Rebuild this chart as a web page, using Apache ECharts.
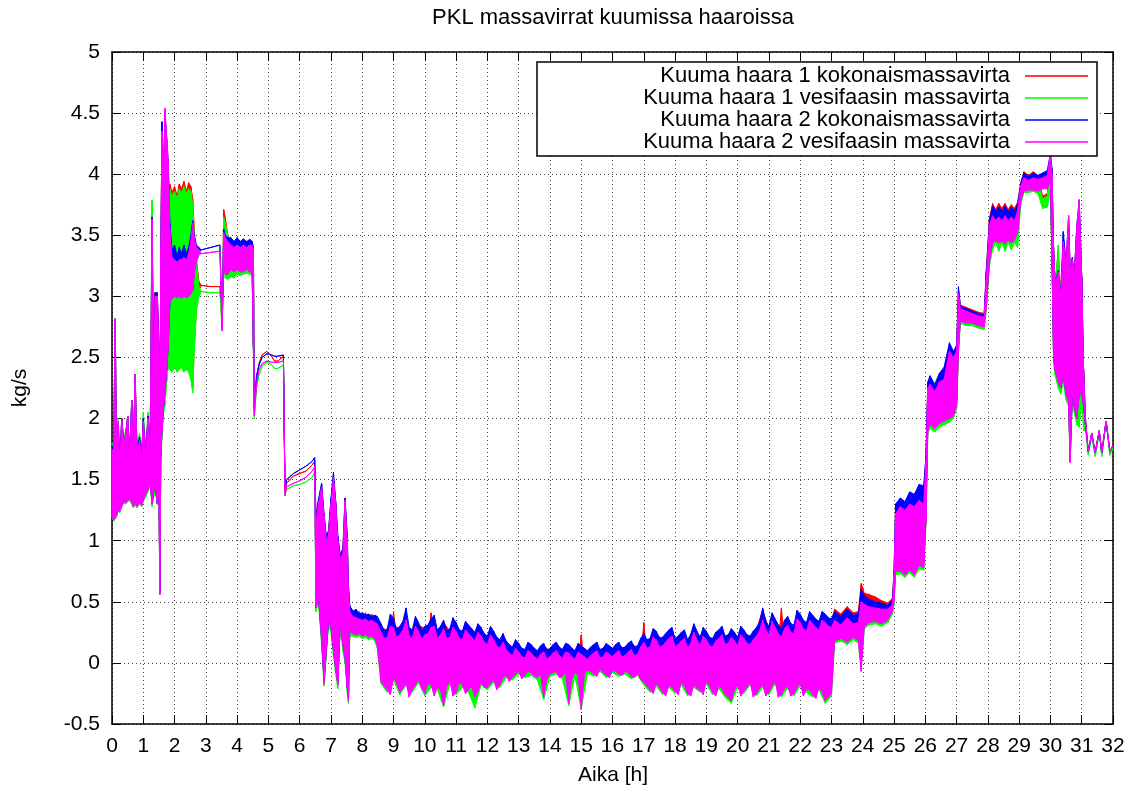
<!DOCTYPE html>
<html><head><meta charset="utf-8">
<script src="https://cdn.jsdelivr.net/npm/echarts@6/dist/echarts.min.js"></script>
<style>html,body{margin:0;padding:0;background:#fff}#c{width:1133px;height:795px}</style>
</head><body><div id="c"></div>
<script>
const chartTitle = 'PKL massavirrat kuumissa haaroissa';
const xTitle = 'Aika [h]';
const yTitle = 'kg/s';
const seriesNames = ['Kuuma haara 1 kokonaismassavirta','Kuuma haara 1 vesifaasin massavirta','Kuuma haara 2 kokonaismassavirta','Kuuma haara 2 vesifaasin massavirta'];
const seriesColors = ['#ff0000','#00ff00','#0000ff','#ff00ff'];
// each sample: [hours, upper edge of signal, lower edge of signal (omitted = same)]
const red = [[0,1.80,1.22],[0.05,1.70,1.18],[0.1,2.80,1.20],[0.15,1.75,1.22],[0.2,1.95,1.26],[0.25,1.65,1.25],[0.31,2.00,1.30],[0.38,1.80,1.33],[0.44,1.88,1.32],[0.5,2.02,1.34],[0.56,1.70,1.35],[0.63,2.15,1.33],[0.68,1.72,1.30],[0.74,2.36,1.32],[0.8,1.75,1.30],[0.88,1.85,1.33],[0.95,1.70,1.30],[1,2.00,1.35],[1.08,1.72,1.40],[1.15,2.02,1.45],[1.22,1.80,1.50],[1.28,3.65,1.30],[1.33,2.40,1.40],[1.38,3.03,1.45],[1.45,3.02,1.30],[1.5,2.60,1.40],[1.53,1.80,0.58],[1.56,3.40,1.70],[1.6,4.40,1.90],[1.65,3.90,2.10],[1.69,4.50,2.20],[1.75,4.25,2.40],
[1.8,3.88,2.45],[1.85,3.92,2.42],[1.92,3.85,2.40],[2,3.90,2.45],[2.08,3.82,2.40],[2.15,3.92,2.42],[2.22,3.88,2.45],[2.3,3.94,2.40],[2.38,3.86,2.42],[2.45,3.93,2.40],[2.52,3.90,2.35],[2.58,3.80,2.25],[2.63,3.55,2.60],[2.7,3.30,2.90],[2.78,3.12,3.05],
[2.85,3.09],[3.15,3.08],[3.45,3.08],[3.52,2.80,2.75],[3.57,3.71,3.30],[3.62,3.65,3.20],[3.7,3.50,3.20],[3.8,3.46,3.25],[3.9,3.44,3.22],[4,3.47,3.24],[4.1,3.43,3.22],[4.2,3.47,3.22],[4.3,3.44,3.24],[4.4,3.47,3.22],[4.48,3.45,3.20],[4.52,3.40,2.60],[4.55,2.10,2.05],
[4.62,2.30],[4.7,2.45],[4.8,2.52],[4.95,2.55],[5.1,2.51],[5.2,2.47],[5.3,2.47],[5.48,2.51],[5.53,1.40],[5.58,1.47],[5.8,1.53],[6,1.55],[6.2,1.57],[6.4,1.62],[6.48,1.65],
[6.52,1.18,0.45],[6.6,1.32,0.52],[6.7,1.46,0.18],[6.78,1.20,-0.16],[6.85,1.02,0.10],[6.92,1.06,0.33],[7,1.32,0.28],[7.08,1.54,0.10],[7.15,1.30,-0.05],[7.22,1.02,-0.17],[7.3,0.86,0.33],[7.38,0.92,0.14],[7.45,1.33,0.04],[7.52,1.02,-0.20],[7.56,0.62,-0.30],[7.6,0.46,0.26],
[7.7,0.43,0.25],[7.8,0.40,0.24],[7.9,0.42,0.25],[8,0.38,0.23],[8.1,0.41,0.24],[8.2,0.37,0.22],[8.3,0.40,0.23],[8.4,0.36,0.22],[8.48,0.34,0.15],
[8.6,0.30,-0.12],[8.8,0.26,-0.19],[8.95,0.30,-0.15],[9,0.42,-0.09],[9.05,0.30,-0.12],[9.2,0.28,-0.21],[9.35,0.32,-0.12],[9.4,0.43,-0.13],[9.45,0.30,-0.14],[9.6,0.25,-0.19],[9.8,0.31,-0.11],[10,0.28,-0.22],[10.15,0.30,-0.13],[10.2,0.41,-0.15],[10.25,0.30,-0.14],[10.4,0.25,-0.17],[10.6,0.33,-0.30],[10.8,0.26,-0.12],[11,0.31,-0.21],[11.2,0.24,-0.15],[11.4,0.29,-0.19],[11.6,0.23,-0.25],[11.8,0.27,-0.13],[12,0.20,-0.17],[12.2,0.24,-0.11],[12.4,0.17,-0.15],[12.6,0.16,-0.07],[12.8,0.11,-0.09],[13,0.14,-0.04],[13.2,0.09,-0.07],[13.4,0.13,-0.05],[13.6,0.08,-0.09],[13.8,0.14,-0.25],[14,0.10,-0.06],[14.2,0.15,-0.04],[14.4,0.09,-0.08],[14.6,0.13,-0.30],[14.8,0.08,-0.05],[14.95,0.10,-0.06],[15,0.23,-0.35],[15.05,0.10,-0.05],[15.2,0.08,-0.03],[15.4,0.13,-0.06],[15.6,0.09,-0.02],[15.8,0.14,-0.07],[16,0.10,-0.03],[16.2,0.15,-0.06],[16.4,0.11,-0.04],[16.6,0.16,-0.08],[16.8,0.12,-0.05],[16.95,0.16,-0.08],[17,0.33,-0.13],[17.05,0.19,-0.12],[17.2,0.18,-0.19],[17.4,0.24,-0.14],[17.6,0.19,-0.21],[17.8,0.25,-0.15],[18,0.18,-0.20],[18.2,0.23,-0.13],[18.4,0.17,-0.22],[18.6,0.30,-0.15],[18.8,0.19,-0.19],[19,0.24,-0.12],[19.2,0.18,-0.21],[19.4,0.25,-0.16],[19.6,0.20,-0.23],[19.8,0.26,-0.28],[20,0.19,-0.15],[20.2,0.25,-0.20],[20.4,0.20,-0.13],[20.6,0.27,-0.22],[20.8,0.43,-0.15],[21,0.28,-0.21],[21.2,0.34,-0.12],[21.35,0.30,-0.15],[21.4,0.45,-0.23],[21.45,0.30,-0.16],[21.6,0.36,-0.16],[21.8,0.29,-0.22],[22,0.38,-0.14],[22.2,0.31,-0.19],[22.4,0.37,-0.23],[22.6,0.32,-0.17],[22.8,0.38,-0.28],[23,0.34,-0.22],[23.1,0.44,0.21],[23.3,0.40,0.23],[23.5,0.46,0.20],[23.7,0.41,0.24],[23.86,0.42,0.21],[23.95,0.65,-0.02],[24.05,0.57,0.33],[24.2,0.56,0.35],[24.4,0.54,0.36],[24.6,0.51,0.34],[24.8,0.49,0.37],[24.95,0.53,0.44],
[25,0.75,0.55],[25.05,1.28,0.77],[25.2,1.33,0.79],[25.35,1.30,0.77],[25.5,1.38,0.80],[25.65,1.36,0.78],[25.8,1.44,0.83],[25.95,1.43,0.83],[26.02,1.68,1.18],[26.08,2.28,1.93],[26.15,2.33,1.98],[26.3,2.26,1.94],[26.45,2.35,1.98],[26.6,2.40,2.00],[26.77,2.58,2.03],[26.9,2.53,2.08],[27,2.58,2.13],[27.06,3.05,2.58],[27.12,2.93,2.81],[27.3,2.91,2.79],[27.5,2.89,2.79],[27.7,2.87,2.77],[27.88,2.86,2.77],[27.95,3.22,2.95],[28.05,3.64,3.28],[28.15,3.76,3.44],[28.25,3.71,3.46],[28.35,3.76,3.44],[28.45,3.72,3.46],[28.55,3.76,3.43],[28.65,3.71,3.46],[28.75,3.75,3.44],[28.85,3.72,3.46],[28.95,3.77,3.52],[29.05,3.93,3.78],[29.15,4.02,3.87],[29.3,3.99,3.87],[29.45,4.02,3.88],[29.6,3.99,3.86],[29.75,3.82,3.76],[29.9,3.84,3.77],[30,4.12,3.90],[30.05,4.00,3.30],[30.1,3.40,2.50],[30.15,3.10,2.40],[30.25,3.37,2.30],[30.33,3.00,2.25],[30.41,3.45,2.35],[30.5,3.26,2.20],[30.58,3.60,2.13],[30.63,3.20,1.66],[30.7,3.30,2.20],[30.76,3.15,2.10],[30.84,3.55,2.00],[30.92,3.75,2.20],[31,3.15,2.20],[31.06,2.40,2.10],[31.12,2.00,1.95],[31.21,1.73],[31.32,1.88],[31.43,1.72],[31.56,1.90],[31.64,1.72],[31.78,1.98],[31.9,1.73],[32,1.78]];

const green = [[0,1.80,1.20],[0.05,1.72,1.16],[0.1,2.82,1.18],[0.15,1.78,1.20],[0.2,2.00,1.24],[0.25,1.66,1.23],[0.31,1.98,1.28],[0.38,1.85,1.31],[0.44,1.90,1.30],[0.5,2.00,1.32],[0.56,1.72,1.33],[0.63,2.12,1.30],[0.68,1.75,1.27],[0.74,2.30,1.29],[0.8,1.78,1.27],[0.88,1.88,1.30],[0.95,1.72,1.28],[1,2.05,1.32],[1.08,1.75,1.36],[1.15,2.05,1.40],[1.22,1.85,1.45],[1.28,3.79,1.28],[1.33,2.50,1.35],[1.38,2.95,1.40],[1.45,2.90,1.30],[1.5,2.50,1.35],[1.53,1.80,0.56],[1.56,3.30,1.65],[1.6,4.20,1.85],[1.65,3.70,2.05],[1.69,4.30,2.10],[1.75,4.10,2.30],
[1.8,3.85,2.42],[1.85,3.88,2.40],[1.92,3.82,2.38],[2,3.86,2.42],[2.08,3.80,2.38],[2.15,3.88,2.40],[2.22,3.85,2.42],[2.3,3.90,2.38],[2.38,3.84,2.40],[2.45,3.88,2.38],[2.52,3.86,2.32],[2.58,3.75,2.21],[2.63,3.52,2.55],[2.7,3.28,2.88],[2.78,3.08,3.00],
[2.85,3.04],[3.15,3.03],[3.45,3.03],[3.52,2.78,2.72],[3.57,3.65,3.25],[3.62,3.60,3.15],[3.7,3.50,3.14],[3.8,3.42,3.16],[3.9,3.40,3.15],[4,3.42,3.18],[4.1,3.40,3.17],[4.2,3.42,3.18],[4.3,3.40,3.19],[4.4,3.43,3.18],[4.48,3.42,3.17],[4.52,3.38,2.55],[4.55,2.05,2.00],
[4.62,2.25],[4.7,2.36],[4.8,2.43],[4.95,2.46],[5.1,2.44],[5.2,2.41],[5.3,2.41],[5.48,2.44],[5.53,1.37],[5.58,1.42],[5.8,1.45],[6,1.46],[6.2,1.48],[6.4,1.52],[6.48,1.56],
[6.52,1.15,0.42],[6.6,1.28,0.50],[6.7,1.40,0.15],[6.78,1.15,-0.19],[6.85,0.98,0.06],[6.92,1.02,0.30],[7,1.28,0.25],[7.08,1.48,0.06],[7.15,1.26,-0.09],[7.22,0.98,-0.21],[7.3,0.83,0.30],[7.38,0.88,0.10],[7.45,1.28,0.00],[7.52,0.98,-0.24],[7.56,0.58,-0.33],[7.6,0.42,0.22],
[7.7,0.38,0.22],[7.8,0.36,0.21],[7.9,0.37,0.22],[8,0.35,0.20],[8.1,0.36,0.21],[8.2,0.34,0.19],[8.3,0.35,0.20],[8.4,0.33,0.18],[8.48,0.32,0.12],
[8.6,0.24,-0.17],[8.8,0.20,-0.24],[9,0.28,-0.14],[9.2,0.22,-0.26],[9.4,0.30,-0.18],[9.6,0.19,-0.24],[9.8,0.25,-0.16],[10,0.22,-0.27],[10.2,0.28,-0.20],[10.4,0.19,-0.22],[10.6,0.27,-0.36],[10.8,0.20,-0.17],[11,0.25,-0.26],[11.2,0.18,-0.20],[11.4,0.23,-0.24],[11.6,0.17,-0.37],[11.8,0.21,-0.18],[12,0.14,-0.22],[12.2,0.18,-0.16],[12.4,0.11,-0.20],[12.6,0.10,-0.12],[12.8,0.05,-0.14],[13,0.08,-0.09],[13.2,0.03,-0.12],[13.4,0.07,-0.10],[13.6,0.02,-0.14],[13.8,0.08,-0.30],[14,0.04,-0.11],[14.2,0.09,-0.09],[14.4,0.03,-0.13],[14.6,0.07,-0.35],[14.8,0.02,-0.10],[15,0.10,-0.38],[15.2,0.02,-0.08],[15.4,0.07,-0.11],[15.6,0.03,-0.07],[15.8,0.08,-0.12],[16,0.04,-0.08],[16.2,0.09,-0.11],[16.4,0.05,-0.09],[16.6,0.10,-0.13],[16.8,0.06,-0.10],[17,0.16,-0.18],[17.2,0.12,-0.24],[17.4,0.18,-0.19],[17.6,0.13,-0.26],[17.8,0.19,-0.20],[18,0.12,-0.25],[18.2,0.17,-0.18],[18.4,0.11,-0.27],[18.6,0.24,-0.20],[18.8,0.13,-0.24],[19,0.18,-0.17],[19.2,0.12,-0.26],[19.4,0.19,-0.21],[19.6,0.14,-0.28],[19.8,0.20,-0.33],[20,0.13,-0.20],[20.2,0.19,-0.25],[20.4,0.14,-0.18],[20.6,0.21,-0.27],[20.8,0.30,-0.20],[21,0.22,-0.26],[21.2,0.28,-0.17],[21.4,0.20,-0.28],[21.6,0.30,-0.21],[21.8,0.23,-0.27],[22,0.32,-0.19],[22.2,0.25,-0.24],[22.4,0.31,-0.28],[22.6,0.26,-0.22],[22.8,0.32,-0.33],[23,0.28,-0.27],[23.1,0.34,0.16],[23.3,0.30,0.18],[23.5,0.36,0.15],[23.7,0.31,0.19],[23.86,0.32,0.16],[23.95,0.45,-0.05],[24.05,0.45,0.28],[24.2,0.44,0.31],[24.4,0.43,0.32],[24.6,0.42,0.30],[24.8,0.42,0.33],[24.95,0.46,0.40],
[25,0.70,0.48],[25.05,1.20,0.72],[25.2,1.25,0.73],[25.35,1.22,0.70],[25.5,1.28,0.74],[25.65,1.26,0.70],[25.8,1.31,0.77],[25.95,1.28,0.76],[26.02,1.62,1.12],[26.08,2.22,1.88],[26.15,2.26,1.92],[26.3,2.20,1.89],[26.45,2.28,1.93],[26.6,2.30,1.95],[26.77,2.52,1.97],[26.9,2.48,2.00],[27,2.52,2.08],[27.06,3.00,2.52],[27.12,2.89,2.78],[27.3,2.87,2.76],[27.5,2.85,2.76],[27.7,2.83,2.74],[27.88,2.82,2.73],[27.95,3.15,2.88],[28.05,3.58,3.25],[28.15,3.65,3.38],[28.25,3.62,3.44],[28.35,3.64,3.37],[28.45,3.61,3.44],[28.55,3.65,3.37],[28.65,3.61,3.44],[28.75,3.64,3.38],[28.85,3.61,3.44],[28.95,3.68,3.40],[29.05,3.88,3.75],[29.15,3.95,3.85],[29.3,3.94,3.85],[29.45,3.95,3.86],[29.6,3.94,3.84],[29.75,3.80,3.72],[29.9,3.82,3.73],[30,4.10,3.85],[30.05,3.95,3.25],[30.1,3.38,2.45],[30.15,3.05,2.35],[30.25,3.42,2.25],[30.33,2.95,2.20],[30.41,3.50,2.30],[30.5,3.20,2.15],[30.58,3.55,2.10],[30.63,3.15,1.65],[30.7,3.25,2.15],[30.76,3.10,2.05],[30.84,3.50,1.95],[30.92,3.70,1.93],[31,3.10,2.15],[31.06,2.35,1.90],[31.12,1.98,1.90],[31.21,1.70],[31.32,1.86],[31.43,1.69],[31.56,1.88],[31.64,1.69],[31.78,1.97],[31.9,1.70],[32,1.76]];

const blue = [[0,1.78,1.22],[0.05,1.70,1.18],[0.1,2.80,1.20],[0.15,1.75,1.22],[0.2,1.95,1.26],[0.25,1.65,1.25],[0.31,2.00,1.30],[0.38,1.80,1.33],[0.44,1.88,1.32],[0.5,2.02,1.34],[0.56,1.70,1.35],[0.63,2.15,1.33],[0.68,1.72,1.30],[0.74,2.36,1.32],[0.8,1.75,1.30],[0.88,1.85,1.33],[0.95,1.70,1.30],[1,2.00,1.35],[1.08,1.72,1.40],[1.15,2.02,1.45],[1.22,1.80,1.50],[1.28,3.65,1.30],[1.33,2.40,1.40],[1.38,3.03,1.45],[1.45,3.03,1.30],[1.5,2.60,1.40],[1.53,1.80,0.58],[1.56,3.40,1.70],[1.6,4.43,1.90],[1.65,3.95,2.10],[1.69,4.52,2.20],[1.75,4.28,2.40],
[1.8,4.10,2.60],[1.85,3.60,2.95],[1.92,3.38,3.00],[2,3.42,3.02],[2.08,3.33,3.00],[2.15,3.40,3.02],[2.22,3.35,3.00],[2.3,3.42,3.02],[2.38,3.35,3.00],[2.45,3.40,3.03],[2.52,3.50,3.05],[2.58,3.62,3.05],[2.63,3.50,3.20],[2.7,3.42,3.30],[2.78,3.40,3.36],
[2.85,3.38],[3.15,3.40],[3.45,3.42],[3.52,2.80,2.74],[3.57,3.55,3.30],[3.62,3.50,3.20],[3.7,3.48,3.20],[3.8,3.48,3.24],[3.9,3.45,3.22],[4,3.48,3.24],[4.1,3.45,3.22],[4.2,3.47,3.22],[4.3,3.45,3.24],[4.4,3.46,3.22],[4.48,3.45,3.20],[4.52,3.40,2.60],[4.55,2.12,2.08],
[4.62,2.35],[4.7,2.44],[4.8,2.50],[4.95,2.53],[5.1,2.52],[5.2,2.51],[5.3,2.51],[5.48,2.52],[5.53,1.42],[5.58,1.50],[5.8,1.55],[6,1.58],[6.2,1.61],[6.4,1.65],[6.48,1.68],
[6.52,1.20,0.45],[6.6,1.34,0.55],[6.7,1.47,0.20],[6.78,1.22,-0.15],[6.85,1.04,0.10],[6.92,1.08,0.35],[7,1.35,0.30],[7.08,1.56,0.10],[7.15,1.33,-0.05],[7.22,1.04,-0.16],[7.3,0.88,0.35],[7.38,0.94,0.15],[7.45,1.35,0.05],[7.52,1.05,-0.20],[7.56,0.64,-0.30],[7.6,0.47,0.28],
[7.7,0.42,0.27],[7.8,0.44,0.26],[7.9,0.40,0.27],[8,0.41,0.25],[8.1,0.39,0.26],[8.2,0.40,0.24],[8.3,0.38,0.25],[8.4,0.39,0.24],[8.48,0.38,0.18],
[8.6,0.32,-0.09],[8.7,0.26,-0.12],[8.8,0.28,-0.16],[8.9,0.40,-0.10],[9,0.36,-0.06],[9.1,0.27,-0.14],[9.2,0.30,-0.18],[9.3,0.34,-0.08],[9.4,0.45,-0.10],[9.5,0.29,-0.13],[9.6,0.27,-0.16],[9.7,0.38,-0.11],[9.8,0.33,-0.08],[9.9,0.26,-0.15],[10,0.30,-0.19],[10.1,0.31,-0.09],[10.2,0.36,-0.12],[10.3,0.39,-0.16],[10.4,0.27,-0.14],[10.5,0.30,-0.20],[10.6,0.35,-0.29],[10.7,0.26,-0.12],[10.8,0.28,-0.09],[10.9,0.37,-0.15],[11,0.33,-0.18],[11.1,0.27,-0.10],[11.2,0.26,-0.12],[11.3,0.34,-0.17],[11.4,0.31,-0.16],[11.5,0.28,-0.11],[11.6,0.25,-0.22],[11.7,0.32,-0.15],[11.8,0.29,-0.10],[11.9,0.24,-0.12],[12,0.22,-0.14],[12.1,0.30,-0.09],[12.2,0.26,-0.08],[12.3,0.21,-0.13],[12.4,0.19,-0.12],[12.5,0.24,-0.07],[12.6,0.18,-0.04],[12.7,0.15,-0.05],[12.8,0.13,-0.06],[12.9,0.19,-0.03],[13,0.16,-0.01],[13.1,0.12,-0.05],[13.2,0.11,-0.04],[13.3,0.17,-0.02],[13.4,0.15,-0.02],[13.5,0.12,-0.04],[13.6,0.10,-0.06],[13.7,0.14,-0.05],[13.8,0.16,-0.22],[13.9,0.10,-0.04],[14,0.12,-0.03],[14.1,0.15,-0.02],[14.2,0.17,-0.01],[14.3,0.13,-0.04],[14.4,0.11,-0.05],[14.5,0.16,-0.03],[14.6,0.15,-0.27],[14.7,0.12,-0.02],[14.8,0.10,-0.02],[14.9,0.16,-0.05],[15,0.14,-0.32],[15.1,0.12,-0.02],[15.2,0.10,0.00],[15.3,0.13,-0.01],[15.4,0.15,-0.03],[15.5,0.17,-0.02],[15.6,0.11,0.01],[15.7,0.12,-0.03],[15.8,0.16,-0.04],[15.9,0.14,-0.01],[16,0.12,0.00],[16.1,0.15,-0.02],[16.2,0.17,-0.03],[16.3,0.12,-0.02],[16.4,0.13,-0.01],[16.5,0.16,-0.03],[16.6,0.18,-0.05],[16.7,0.13,-0.02],[16.8,0.14,-0.02],[16.9,0.20,-0.06],[17,0.24,-0.10],[17.1,0.19,-0.12],[17.2,0.20,-0.16],[17.3,0.28,-0.13],[17.4,0.26,-0.11],[17.5,0.20,-0.15],[17.6,0.21,-0.18],[17.7,0.24,-0.14],[17.8,0.27,-0.12],[17.9,0.29,-0.13],[18,0.20,-0.17],[18.1,0.22,-0.12],[18.2,0.25,-0.10],[18.3,0.27,-0.15],[18.4,0.19,-0.19],[18.5,0.23,-0.14],[18.6,0.32,-0.12],[18.7,0.26,-0.13],[18.8,0.21,-0.16],[18.9,0.29,-0.12],[19,0.26,-0.09],[19.1,0.21,-0.14],[19.2,0.20,-0.18],[19.3,0.25,-0.15],[19.4,0.27,-0.13],[19.5,0.30,-0.16],[19.6,0.22,-0.20],[19.7,0.23,-0.18],[19.8,0.28,-0.25],[19.9,0.25,-0.15],[20,0.21,-0.12],[20.1,0.30,-0.14],[20.2,0.27,-0.17],[20.3,0.23,-0.13],[20.4,0.22,-0.10],[20.5,0.26,-0.16],[20.6,0.29,-0.19],[20.7,0.33,-0.14],[20.8,0.45,-0.12],[20.9,0.34,-0.15],[21,0.30,-0.18],[21.1,0.41,-0.12],[21.2,0.36,-0.09],[21.3,0.31,-0.14],[21.4,0.28,-0.20],[21.5,0.35,-0.16],[21.6,0.38,-0.13],[21.7,0.32,-0.15],[21.8,0.31,-0.19],[21.9,0.43,-0.14],[22,0.40,-0.11],[22.1,0.35,-0.13],[22.2,0.33,-0.16],[22.3,0.42,-0.17],[22.4,0.39,-0.20],[22.5,0.36,-0.16],[22.6,0.34,-0.14],[22.7,0.42,-0.19],[22.8,0.40,-0.25],[22.9,0.37,-0.20],[23,0.36,-0.19],[23.1,0.42,0.24],[23.3,0.38,0.26],[23.5,0.44,0.23],[23.7,0.39,0.27],[23.86,0.40,0.24],[23.95,0.60,0.00],[24.05,0.55,0.36],[24.2,0.52,0.38],[24.4,0.50,0.39],[24.6,0.49,0.37],[24.8,0.47,0.40],[24.95,0.52,0.46],
[25,0.75,0.55],[25.05,1.30,0.78],[25.2,1.35,0.80],[25.35,1.32,0.78],[25.5,1.40,0.82],[25.65,1.38,0.80],[25.8,1.46,0.85],[25.95,1.45,0.85],[26.02,1.70,1.20],[26.08,2.30,1.95],[26.15,2.35,2.00],[26.3,2.28,1.96],[26.45,2.37,2.00],[26.6,2.42,2.02],[26.77,2.62,2.05],[26.9,2.55,2.10],[27,2.60,2.15],[27.06,3.08,2.60],[27.12,2.92,2.82],[27.3,2.90,2.80],[27.5,2.88,2.80],[27.7,2.86,2.78],[27.88,2.85,2.78],[27.95,3.20,2.95],[28.05,3.62,3.30],[28.15,3.74,3.45],[28.25,3.70,3.48],[28.35,3.73,3.46],[28.45,3.70,3.47],[28.55,3.74,3.45],[28.65,3.69,3.48],[28.75,3.73,3.46],[28.85,3.70,3.48],[28.95,3.75,3.55],[29.05,3.92,3.80],[29.15,4.01,3.88],[29.3,3.98,3.88],[29.45,4.01,3.89],[29.6,3.99,3.88],[29.75,4.01,3.90],[29.9,4.03,3.90],[30,4.17,3.95],[30.05,4.05,3.30],[30.1,3.40,2.50],[30.15,3.12,2.40],[30.25,3.21,2.30],[30.33,3.02,2.25],[30.41,3.53,2.35],[30.5,3.28,2.20],[30.58,3.66,2.15],[30.63,3.22,1.66],[30.7,3.32,2.20],[30.76,3.17,2.10],[30.84,3.57,2.00],[30.92,3.79,2.20],[31,3.17,2.20],[31.06,2.40,2.10],[31.12,2.00,1.95],[31.21,1.73],[31.32,1.88],[31.43,1.72],[31.56,1.90],[31.64,1.72],[31.78,1.98],[31.9,1.73],[32,1.78]];

const magenta = [[0,1.75,1.20],[0.05,1.68,1.17],[0.1,2.82,1.18],[0.15,1.72,1.21],[0.2,1.98,1.25],[0.25,1.62,1.24],[0.31,1.99,1.28],[0.38,1.80,1.32],[0.44,1.88,1.31],[0.5,2.02,1.33],[0.56,1.68,1.34],[0.63,2.15,1.31],[0.68,1.70,1.28],[0.74,2.36,1.30],[0.8,1.72,1.28],[0.88,1.82,1.31],[0.95,1.68,1.29],[1,1.98,1.33],[1.08,1.70,1.38],[1.15,2.00,1.42],[1.22,1.78,1.48],[1.28,3.63,1.30],[1.33,2.30,1.40],[1.38,3.00,1.45],[1.45,3.00,1.30],[1.5,2.60,1.38],[1.53,1.80,0.56],[1.56,3.40,1.70],[1.6,4.35,1.90],[1.65,3.90,2.10],[1.69,4.54,2.20],[1.75,4.30,2.40],
[1.8,4.10,2.60],[1.85,3.55,2.95],[1.92,3.32,2.98],[2,3.30,3.00],[2.08,3.28,2.99],[2.15,3.30,3.00],[2.22,3.30,2.98],[2.3,3.32,3.00],[2.38,3.30,2.99],[2.45,3.35,3.00],[2.52,3.45,3.02],[2.58,3.60,3.05],[2.63,3.48,3.18],[2.7,3.40,3.28],[2.78,3.38,3.34],
[2.85,3.35],[3.15,3.36],[3.45,3.37],[3.52,2.78,2.72],[3.57,3.52,3.28],[3.62,3.48,3.18],[3.7,3.45,3.18],[3.8,3.42,3.22],[3.9,3.40,3.20],[4,3.42,3.22],[4.1,3.40,3.20],[4.2,3.42,3.20],[4.3,3.40,3.22],[4.4,3.42,3.20],[4.48,3.42,3.19],[4.52,3.38,2.58],[4.55,2.08,2.02],
[4.62,2.28],[4.7,2.40],[4.8,2.45],[4.95,2.47],[5.1,2.46],[5.2,2.46],[5.3,2.46],[5.48,2.47],[5.53,1.37],[5.58,1.44],[5.8,1.47],[6,1.49],[6.2,1.52],[6.4,1.57],[6.48,1.61],
[6.52,1.15,0.45],[6.6,1.30,0.55],[6.7,1.44,0.20],[6.78,1.20,-0.17],[6.85,1.00,0.10],[6.92,1.05,0.35],[7,1.30,0.30],[7.08,1.52,0.10],[7.15,1.30,-0.05],[7.22,1.00,-0.18],[7.3,0.85,0.35],[7.38,0.90,0.15],[7.45,1.33,0.05],[7.52,1.00,-0.20],[7.56,0.60,-0.32],[7.6,0.42,0.26],
[7.7,0.38,0.24],[7.8,0.37,0.23],[7.9,0.36,0.24],[8,0.35,0.22],[8.1,0.36,0.23],[8.2,0.34,0.21],[8.3,0.35,0.22],[8.4,0.33,0.20],[8.48,0.32,0.14],
[8.6,0.25,-0.15],[8.7,0.20,-0.19],[8.8,0.21,-0.22],[8.9,0.30,-0.26],[9,0.29,-0.12],[9.1,0.21,-0.17],[9.2,0.23,-0.24],[9.3,0.27,-0.21],[9.4,0.35,-0.16],[9.5,0.22,-0.28],[9.6,0.20,-0.22],[9.7,0.30,-0.18],[9.8,0.26,-0.14],[9.9,0.19,-0.21],[10,0.23,-0.25],[10.1,0.24,-0.17],[10.2,0.29,-0.18],[10.3,0.30,-0.27],[10.4,0.20,-0.20],[10.5,0.23,-0.22],[10.6,0.28,-0.35],[10.7,0.20,-0.19],[10.8,0.21,-0.15],[10.9,0.29,-0.27],[11,0.26,-0.24],[11.1,0.20,-0.16],[11.2,0.19,-0.18],[11.3,0.27,-0.25],[11.4,0.24,-0.22],[11.5,0.21,-0.19],[11.6,0.18,-0.28],[11.7,0.25,-0.23],[11.8,0.22,-0.16],[11.9,0.17,-0.20],[12,0.15,-0.20],[12.1,0.23,-0.17],[12.2,0.19,-0.14],[12.3,0.14,-0.22],[12.4,0.12,-0.18],[12.5,0.17,-0.12],[12.6,0.11,-0.10],[12.7,0.08,-0.15],[12.8,0.06,-0.12],[12.9,0.12,-0.09],[13,0.09,-0.07],[13.1,0.05,-0.13],[13.2,0.04,-0.10],[13.3,0.10,-0.07],[13.4,0.08,-0.08],[13.5,0.05,-0.11],[13.6,0.03,-0.12],[13.7,0.07,-0.09],[13.8,0.09,-0.28],[13.9,0.03,-0.13],[14,0.05,-0.09],[14.1,0.08,-0.08],[14.2,0.10,-0.07],[14.3,0.06,-0.12],[14.4,0.04,-0.11],[14.5,0.09,-0.08],[14.6,0.08,-0.33],[14.7,0.05,-0.13],[14.8,0.03,-0.08],[14.9,0.09,-0.10],[15,0.07,-0.38],[15.1,0.05,-0.09],[15.2,0.03,-0.06],[15.3,0.06,-0.07],[15.4,0.08,-0.09],[15.5,0.10,-0.11],[15.6,0.04,-0.05],[15.7,0.05,-0.08],[15.8,0.09,-0.10],[15.9,0.07,-0.12],[16,0.05,-0.06],[16.1,0.08,-0.07],[16.2,0.10,-0.09],[16.3,0.05,-0.10],[16.4,0.06,-0.07],[16.5,0.09,-0.08],[16.6,0.11,-0.11],[16.7,0.06,-0.12],[16.8,0.07,-0.08],[16.9,0.13,-0.14],[17,0.17,-0.16],[17.1,0.12,-0.19],[17.2,0.13,-0.22],[17.3,0.21,-0.25],[17.4,0.19,-0.17],[17.5,0.13,-0.20],[17.6,0.14,-0.24],[17.7,0.17,-0.27],[17.8,0.20,-0.18],[17.9,0.22,-0.20],[18,0.13,-0.23],[18.1,0.15,-0.26],[18.2,0.18,-0.16],[18.3,0.20,-0.19],[18.4,0.12,-0.25],[18.5,0.16,-0.27],[18.6,0.25,-0.18],[18.7,0.19,-0.21],[18.8,0.14,-0.22],[18.9,0.22,-0.26],[19,0.19,-0.15],[19.1,0.14,-0.19],[19.2,0.13,-0.24],[19.3,0.18,-0.27],[19.4,0.20,-0.19],[19.5,0.23,-0.21],[19.6,0.15,-0.26],[19.7,0.16,-0.28],[19.8,0.21,-0.31],[19.9,0.18,-0.22],[20,0.14,-0.18],[20.1,0.23,-0.27],[20.2,0.20,-0.23],[20.3,0.16,-0.20],[20.4,0.15,-0.16],[20.5,0.19,-0.28],[20.6,0.22,-0.25],[20.7,0.26,-0.21],[20.8,0.35,-0.18],[20.9,0.27,-0.27],[21,0.23,-0.24],[21.1,0.34,-0.19],[21.2,0.29,-0.15],[21.3,0.24,-0.28],[21.4,0.21,-0.26],[21.5,0.28,-0.21],[21.6,0.31,-0.19],[21.7,0.25,-0.27],[21.8,0.24,-0.25],[21.9,0.36,-0.20],[22,0.33,-0.17],[22.1,0.28,-0.27],[22.2,0.26,-0.22],[22.3,0.35,-0.22],[22.4,0.32,-0.26],[22.5,0.29,-0.29],[22.6,0.27,-0.20],[22.7,0.35,-0.24],[22.8,0.33,-0.31],[22.9,0.30,-0.28],[23,0.29,-0.25],[23.1,0.35,0.18],[23.3,0.31,0.20],[23.5,0.37,0.17],[23.7,0.32,0.21],[23.86,0.33,0.18],[23.95,0.50,-0.07],[24.05,0.48,0.30],[24.2,0.46,0.33],[24.4,0.45,0.34],[24.6,0.44,0.32],[24.8,0.44,0.35],[24.95,0.48,0.42],
[25,0.72,0.50],[25.05,1.22,0.75],[25.2,1.28,0.75],[25.35,1.25,0.72],[25.5,1.30,0.76],[25.65,1.28,0.72],[25.8,1.33,0.80],[25.95,1.30,0.78],[26.02,1.65,1.15],[26.08,2.25,1.90],[26.15,2.28,1.95],[26.3,2.22,1.92],[26.45,2.30,1.96],[26.6,2.32,1.98],[26.77,2.55,2.00],[26.9,2.50,2.02],[27,2.55,2.10],[27.06,3.02,2.55],[27.12,2.90,2.80],[27.3,2.88,2.78],[27.5,2.86,2.78],[27.7,2.84,2.76],[27.88,2.83,2.75],[27.95,3.15,2.90],[28.05,3.58,3.28],[28.15,3.66,3.44],[28.25,3.62,3.45],[28.35,3.65,3.44],[28.45,3.62,3.45],[28.55,3.66,3.43],[28.65,3.62,3.46],[28.75,3.65,3.44],[28.85,3.62,3.46],[28.95,3.70,3.52],[29.05,3.90,3.78],[29.15,3.97,3.86],[29.3,3.95,3.87],[29.45,3.97,3.87],[29.6,3.96,3.86],[29.75,3.97,3.88],[29.9,3.99,3.88],[30,4.17,3.95],[30.05,4.00,3.30],[30.1,3.40,2.50],[30.15,3.10,2.40],[30.25,3.20,2.30],[30.33,3.00,2.25],[30.41,3.45,2.35],[30.5,3.26,2.20],[30.58,3.66,2.13],[30.63,3.20,1.64],[30.7,3.30,2.20],[30.76,3.15,2.10],[30.84,3.57,2.00],[30.92,3.79,2.20],[31,3.15,2.20],[31.06,2.40,2.10],[31.12,2.00,1.95],[31.21,1.73],[31.32,1.88],[31.43,1.72],[31.56,1.90],[31.64,1.72],[31.78,1.98],[31.9,1.73],[32,1.78]];

const FONT = 'Liberation Sans, Arial, Helvetica, sans-serif';

function toSegments(arr) {
  const out = [];
  for (let i = 0; i < arr.length - 1; i++) {
    const a = arr[i], b = arr[i + 1];
    out.push([a[0], a[1], a.length > 2 ? a[2] : a[1], b[0], b[1], b.length > 2 ? b[2] : b[1]]);
  }
  return out;
}
function bandSeries(name, color, arr) {
  return {
    name: name, type: 'custom', xAxisIndex: 0, yAxisIndex: 0,
    silent: true, animation: false,
    itemStyle: { color: color },
    data: toSegments(arr),
    encode: { x: [0, 3], y: [1, 2, 4, 5] },
    renderItem: function (params, api) {
      const p0h = api.coord([api.value(0), api.value(1)]);
      const p0l = api.coord([api.value(0), api.value(2)]);
      const p1h = api.coord([api.value(3), api.value(4)]);
      const p1l = api.coord([api.value(3), api.value(5)]);
      return {
        type: 'polygon',
        shape: { points: [p0h, p1h, p1l, p0l] },
        style: { fill: color, stroke: color, lineWidth: 1 }
      };
    }
  };
}

const chart = echarts.init(document.getElementById('c'), null, { renderer: 'canvas' });
const axisLine = { show: true, onZero: false, lineStyle: { color: '#000', width: 1.5 } };
const tick = { show: true, inside: true, length: 9, lineStyle: { color: '#000', width: 1 } };
const grid = { show: true, lineStyle: { color: '#444', width: 1, type: [1, 3] } };
const labelStyle = { color: '#000', fontSize: 21, fontFamily: FONT };

chart.setOption({
  animation: false,
  backgroundColor: '#fff',
  grid: { left: 112, right: 20, top: 52, bottom: 71, containLabel: false },
  xAxis: [
    { type: 'value', min: 0, max: 32, interval: 1, position: 'bottom', axisLine: axisLine, axisTick: tick, splitLine: grid, axisLabel: Object.assign({ margin: 12 }, labelStyle) },
    { type: 'value', min: 0, max: 32, interval: 1, position: 'top', axisLine: axisLine, axisTick: tick, splitLine: { show: false }, axisLabel: { show: false } }
  ],
  yAxis: [
    { type: 'value', min: -0.5, max: 5, interval: 0.5, position: 'left', axisLine: axisLine, axisTick: tick, splitLine: grid, axisLabel: Object.assign({ margin: 12 }, labelStyle) },
    { type: 'value', min: -0.5, max: 5, interval: 0.5, position: 'right', axisLine: axisLine, axisTick: tick, splitLine: { show: false }, axisLabel: { show: false } }
  ],
  legend: {
    orient: 'vertical', right: 36, top: 62, align: 'right',
    padding: [3, 9, 3, 10], itemGap: 0,
    backgroundColor: '#fff', borderColor: '#000', borderWidth: 1.5,
    selectedMode: false, icon: 'rect', itemWidth: 63, itemHeight: 1.5,
    data: seriesNames.map((n, i) => ({ name: n, itemStyle: { color: seriesColors[i] } })),
    formatter: n => '{a|' + n + '}',
    textStyle: { color: '#000', fontSize: 22, fontFamily: FONT,
      rich: { a: { width: 463, align: 'right', padding: [0, 10, 0, 0], fontSize: 22, lineHeight: 21, fontFamily: FONT, color: '#000' } } }
  },
  graphic: [
    { type: 'text', x: 613, y: 18, style: { text: chartTitle, fontSize: 22, fontFamily: FONT, fill: '#000', textAlign: 'center', textVerticalAlign: 'middle' } },
    { type: 'text', x: 613, y: 775, style: { text: xTitle, fontSize: 21, fontFamily: FONT, fill: '#000', textAlign: 'center', textVerticalAlign: 'middle' } },
    { type: 'text', x: 20, y: 388, rotation: Math.PI / 2, style: { text: yTitle, fontSize: 21, fontFamily: FONT, fill: '#000', textAlign: 'center', textVerticalAlign: 'middle' } }
  ],
  series: [
    bandSeries(seriesNames[0], seriesColors[0], red),
    bandSeries(seriesNames[1], seriesColors[1], green),
    bandSeries(seriesNames[2], seriesColors[2], blue),
    bandSeries(seriesNames[3], seriesColors[3], magenta)
  ]
});
</script>
</body></html>
